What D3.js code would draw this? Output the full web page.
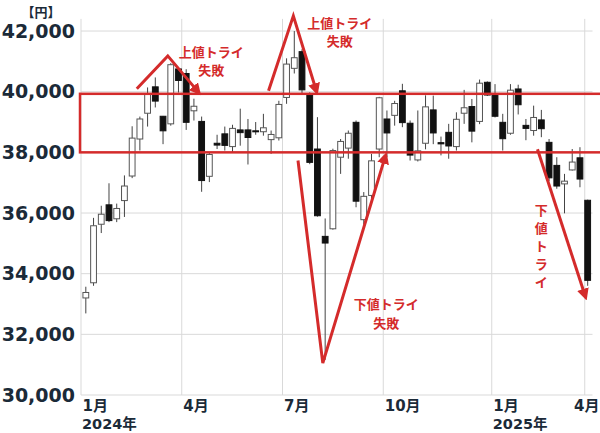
<!DOCTYPE html>
<html>
<head>
<meta charset="utf-8">
<script src="https://cdn.jsdelivr.net/npm/d3@7"></script>
<style>
  body { margin: 0; background: #fff; }
  svg { display: block; }
  .grid line { stroke: #d9d9d9; stroke-width: 1; }
  .axis text { font-family: "DejaVu Sans", "Noto Sans CJK JP", sans-serif; font-weight: bold; fill: #1b2a38; }
  .note { font-family: "Noto Sans CJK JP", sans-serif; font-weight: bold; fill: #d42b2b; font-size: 13px; }
</style>
</head>
<body>
<div id="chart"></div>
<script>
// weekly candles, Jan 2024 - Apr 2025 (one entry per calendar week)
var weekCount = 66;
var open  = [33200,33700,35630,36270,35810,36410,37220,38440,39290,40160,39190,38940,40750,40600,39370,39020,37210,38300,38610,38190,38740,38740,38710,38680,38420,38480,39810,40770,41320,39890,38110,35230,35480,37840,38140,38990,35780,36580,38110,39100,39220,40030,38960,37750,38300,39400,38320,38660,38190,39290,39510,39020,40310,39890,38990,38630,40090,38890,38720,39070,38330,37570,36960,37420,37820,36420];
var high  = [33570,35840,36240,36980,36310,37240,38860,39180,40140,40470,39200,40940,40800,40740,39770,39180,38000,38580,38850,38910,39440,39100,39000,39270,38720,39700,41100,42000,41400,39980,39160,35820,38120,38440,38720,39050,36690,37950,39830,39380,39700,40260,39050,39380,39880,39870,38520,38940,39320,40060,39760,40400,40340,40250,39270,40250,40230,39100,39540,39400,38440,37840,37290,38110,38170,36440];
var low   = [32690,33600,35340,35700,35700,35870,37150,38060,38850,39480,38270,38880,39970,38740,39050,36700,37020,38110,38060,38000,38220,37600,38580,38550,37950,38390,39600,40600,39900,37610,35880,31160,35450,37290,37790,36190,35620,36450,37840,37840,38880,38830,37730,37700,38100,38270,37900,37790,38060,38940,38330,38930,39860,39150,38060,38580,39250,38400,38550,38500,37050,36800,35990,37400,36850,33600];
var close = [33380,35580,35960,35750,36150,36890,38470,39100,39910,39690,38710,40890,40370,38990,39520,37070,37930,38240,38230,38790,38650,38490,38680,38810,38590,39580,40910,41120,40060,37670,35910,35010,38060,38360,38630,36390,36550,37720,39800,38640,39610,38980,37910,38050,39500,38640,38280,38210,39090,39470,38700,40280,39890,39190,38450,40050,39570,38790,39150,38780,37160,36890,37050,37680,37120,33780];

// axis ticks
var yTicks = [30000, 32000, 34000, 36000, 38000, 40000, 42000];
var tickWeeks = [0, 13, 26, 39, 53, 65];
var monthLabels = ["1月", "4月", "7月", "10月", "1月", "4月"];
var yearWeeks = [0, 53];
var yearLabels = ["2024年", "2025年"];

// annotations (week index, price)
var rangeBox = [38000, 39930];
var arrowUp1 = [[7.2, 40100], [11.2, 41180], [15.2, 39970]];
var arrowUp2 = [[24.2, 40030], [27.4, 42500], [30.4, 40000]];
var arrowV = [[28.0, 37730], [31.2, 31050], [39.3, 37900]];
var arrowDown = [[58.9, 38100], [65.1, 33230]];

var width = 600, height = 433;
var svg = d3.select("#chart").append("svg")
    .attr("width", width)
    .attr("height", height);

var left = 81, right = 592.5;

// scales
var x = d3.scaleBand().domain(d3.range(weekCount)).range([left, right]).padding(0.25);
var xw = d3.scaleLinear().domain([0, weekCount]).range([left, right]);
var y = d3.scaleLinear().domain([30000, 42400]).range([395, 18.9]);

// grid
var grid = svg.append("g").attr("class", "grid");
grid.selectAll(".h").data(yTicks).enter().append("line")
    .attr("x1", left).attr("x2", right)
    .attr("y1", function (d) { return y(d); })
    .attr("y2", function (d) { return y(d); });
grid.selectAll(".v").data(tickWeeks).enter().append("line")
    .attr("x1", function (d) { return xw(d); })
    .attr("x2", function (d) { return xw(d); })
    .attr("y1", y(42400)).attr("y2", y(30000));

// y axis
var yAxis = svg.append("g")
    .attr("class", "axis")
    .attr("transform", "translate(" + left + ",0)")
    .call(d3.axisLeft(y).tickValues(yTicks).tickFormat(d3.format(",")).tickSize(0).tickPadding(6));
yAxis.select(".domain").remove();
yAxis.selectAll("text").style("font-size", "19px");

svg.append("text")
    .attr("x", 41).attr("y", 17)
    .attr("text-anchor", "middle")
    .style("font-family", "'Noto Sans CJK JP', sans-serif")
    .style("font-weight", "bold")
    .style("font-size", "13px")
    .style("fill", "#1b2a38")
    .text("【円】");

// x axis
var xAxis = svg.append("g")
    .attr("class", "axis")
    .attr("transform", "translate(0," + y(30000) + ")")
    .call(d3.axisBottom(xw).tickValues(tickWeeks)
        .tickFormat(function (d, i) { return monthLabels[i]; })
        .tickSize(0).tickPadding(5));
xAxis.select(".domain").remove();
xAxis.selectAll("text")
    .style("font-size", "15px")
    .attr("text-anchor", function (d, i) { return i === tickWeeks.length - 1 ? "end" : "start"; })
    .attr("x", function (d, i) { return i === tickWeeks.length - 1 ? 599 - xw(d) : 1; });

svg.append("g").attr("class", "axis")
    .selectAll("text").data(yearWeeks).enter().append("text")
    .attr("x", function (d) { return xw(d) + 1; })
    .attr("y", 429)
    .style("font-size", "14.5px")
    .text(function (d, i) { return yearLabels[i]; });

// candles
var candles = svg.append("g").selectAll("g").data(d3.range(weekCount)).enter().append("g");
candles.append("line")
    .attr("x1", function (i) { return x(i) + x.bandwidth() / 2; })
    .attr("x2", function (i) { return x(i) + x.bandwidth() / 2; })
    .attr("y1", function (i) { return y(high[i]); })
    .attr("y2", function (i) { return y(low[i]); })
    .style("stroke", "#444")
    .style("stroke-width", 1);
candles.append("rect")
    .attr("x", function (i) { return x(i); })
    .attr("width", x.bandwidth())
    .attr("y", function (i) { return y(Math.max(open[i], close[i])); })
    .attr("height", function (i) { return Math.max(1, Math.abs(y(open[i]) - y(close[i]))); })
    .style("fill", function (i) { return close[i] >= open[i] ? "#fff" : "#111"; })
    .style("stroke", function (i) { return close[i] >= open[i] ? "#555" : "#111"; })
    .style("stroke-width", 1);

// red range box
var red = "#d42b2b";
svg.append("rect")
    .attr("x", 80)
    .attr("y", y(rangeBox[1]))
    .attr("width", 540)
    .attr("height", y(rangeBox[0]) - y(rangeBox[1]))
    .style("fill", "none")
    .style("stroke", red)
    .style("stroke-width", 2.5);

// arrows
svg.append("defs").append("marker")
    .attr("id", "head")
    .attr("viewBox", "0 0 10 10")
    .attr("refX", 7).attr("refY", 5)
    .attr("markerWidth", 4).attr("markerHeight", 4)
    .attr("markerUnits", "strokeWidth")
    .attr("orient", "auto")
    .append("path")
    .attr("d", "M0,0 L10,5 L0,10 z")
    .style("fill", red);

var line = d3.line()
    .x(function (d) { return xw(d[0]); })
    .y(function (d) { return y(d[1]); });

[arrowUp1, arrowUp2, arrowV, arrowDown].forEach(function (pts) {
    svg.append("path")
        .attr("d", line(pts))
        .style("fill", "none")
        .style("stroke", red)
        .style("stroke-width", 3)
        .style("stroke-linejoin", "miter")
        .attr("marker-end", "url(#head)");
});

// notes
function note(wk, price, lines, lh) {
    var t = svg.append("text")
        .attr("class", "note")
        .attr("text-anchor", "middle")
        .attr("x", xw(wk))
        .attr("y", y(price));
    lines.forEach(function (s, i) {
        t.append("tspan")
            .attr("x", xw(wk))
            .attr("dy", i === 0 ? 0 : lh)
            .text(s);
    });
}
note(16.8, 41143, ["上値トライ", "失敗"], 18);
note(33.4, 42100, ["上値トライ", "失敗"], 18);
note(39.4, 32835, ["下値トライ", "失敗"], 19);
note(59.4, 35930, ["下", "値", "ト", "ラ", "イ"], 18);
</script>
</body>
</html>
